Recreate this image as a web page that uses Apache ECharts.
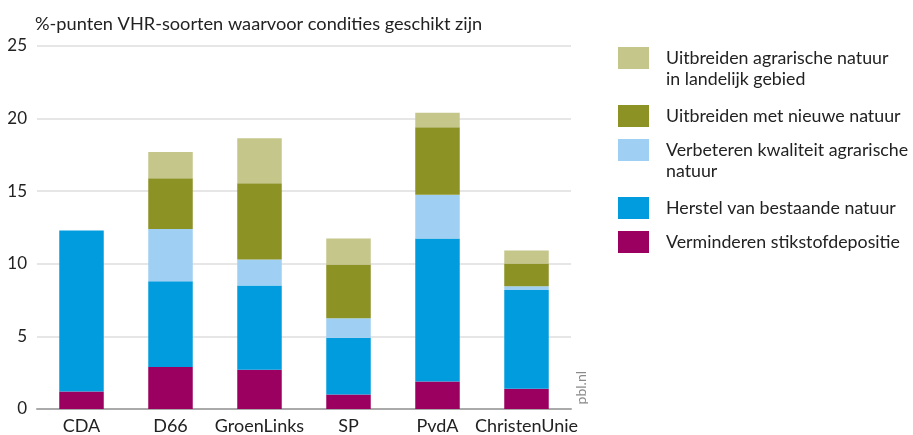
<!DOCTYPE html>
<html>
<head>
<meta charset="utf-8">
<script src="https://cdn.jsdelivr.net/npm/echarts@6/dist/echarts.min.js"></script>
<style>html,body{margin:0;padding:0;background:#fff;overflow:hidden}#c{width:913px;height:435px}</style>
</head>
<body>
<div id="c"></div>
<script>
var categories = ['CDA', 'D66', 'GroenLinks', 'SP', 'PvdA', 'ChristenUnie'];
var stikstof = [1.2, 2.9, 2.7, 1.0, 1.9, 1.4];
var herstel = [11.1, 5.9, 5.8, 3.9, 9.85, 6.8];
var verbeteren = [0, 3.6, 1.8, 1.35, 3.0, 0.25];
var nieuweNatuur = [0, 3.5, 5.25, 3.7, 4.65, 1.57];
var agrarisch = [0, 1.8, 3.1, 1.8, 1.0, 0.9];
var yTicks = [0, 5, 10, 15, 20, 25];

var names = {
  agr: ['Uitbreiden agrarische natuur', 'in landelijk gebied'],
  nieuw: ['Uitbreiden met nieuwe natuur'],
  verb: ['Verbeteren kwaliteit agrarische', 'natuur'],
  herst: ['Herstel van bestaande natuur'],
  stik: ['Verminderen stikstofdepositie']
};
var colors = {
  agr: '#c4c68a', nieuw: '#8d9225', verb: '#9fcff2', herst: '#009cde', stik: '#9b0060'
};
var FONT = 'Lato';
var LEG_FONT = 17.8;
var chart = echarts.init(document.getElementById('c'));

function bar(key, data) {
  return {
    name: names[key][0], type: 'bar', stack: 'total', barWidth: '50%',
    data: data, itemStyle: {color: colors[key]}
  };
}
var graphics = [];
function leg(key, top) {
  if (names[key].length > 1) {
    graphics.push({
      type: 'text', left: 666, top: top + 23,
      style: {text: names[key][1], fontFamily: FONT, fontSize: LEG_FONT, fill: '#222'}
    });
  }
  return {
    data: [names[key][0]], left: 618, top: top, padding: 0,
    itemWidth: 31, itemHeight: 22, icon: 'rect', selectedMode: false,
    textStyle: {fontFamily: FONT, fontSize: LEG_FONT, color: '#222', padding: [0, 0, 0, 12]}
  };
}
var legends = [
  leg('agr', 47),
  leg('nieuw', 105),
  leg('verb', 139),
  leg('herst', 197),
  leg('stik', 231)
];
graphics.push({
  type: 'text', left: 574, top: 371, rotation: Math.PI / 2,
  style: {text: 'pbl.nl', fontFamily: FONT, fontSize: 14, fill: '#8a8a8a'}
});

chart.setOption({
  animation: false,
  title: {
    text: '%-punten VHR-soorten waarvoor condities geschikt zijn',
    left: 30, top: 10,
    textStyle: {fontFamily: FONT, fontSize: 18.2, fontWeight: 'normal', color: '#222'}
  },
  legend: legends,
  grid: {left: 37, right: 342, top: 46, bottom: 22},
  xAxis: {
    type: 'category', data: categories,
    axisLine: {lineStyle: {color: '#aaa', width: 2}},
    axisTick: {show: false},
    axisLabel: {fontFamily: FONT, fontSize: 18, color: '#222', margin: 8, interval: 0}
  },
  yAxis: {
    type: 'value', min: yTicks[0], max: yTicks[yTicks.length - 1], interval: 5,
    axisLine: {show: false}, axisTick: {show: false},
    axisLabel: {fontFamily: FONT, fontSize: 17, color: '#222', margin: 10},
    splitLine: {lineStyle: {color: '#dedede', width: 1.5}}
  },
  graphic: graphics,
  series: [
    bar('stik', stikstof),
    bar('herst', herstel),
    bar('verb', verbeteren),
    bar('nieuw', nieuweNatuur),
    bar('agr', agrarisch)
  ]
});
</script>
</body>
</html>
